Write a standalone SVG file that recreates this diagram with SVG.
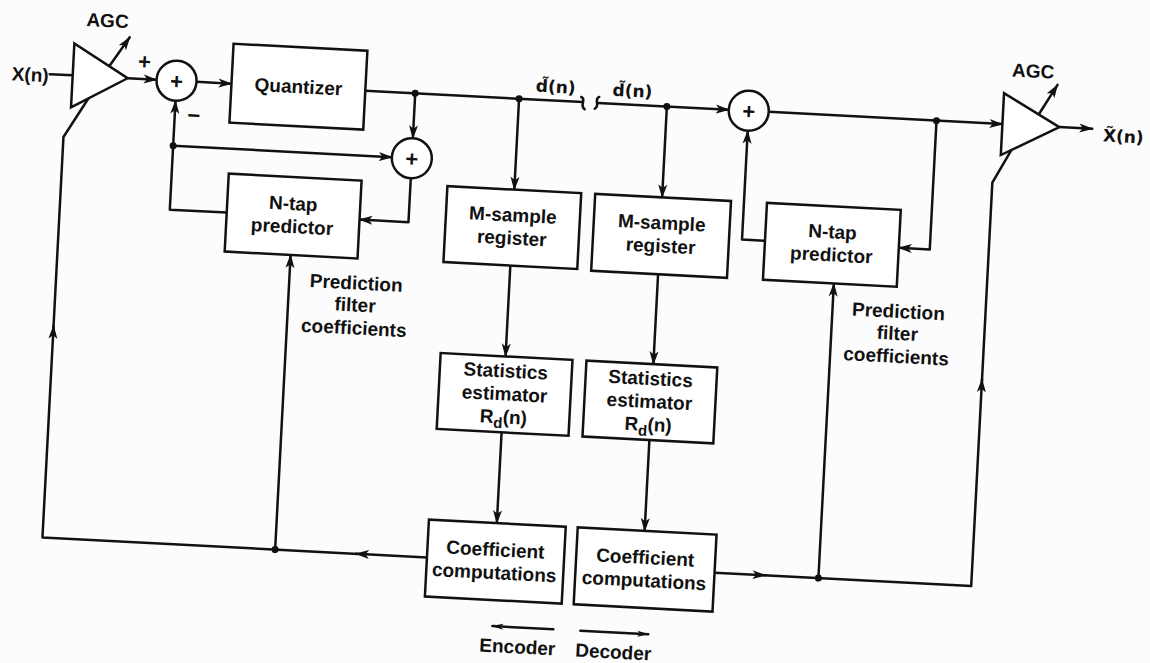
<svg xmlns="http://www.w3.org/2000/svg" width="1150" height="663" viewBox="0 0 1150 663">
<style>
.box{fill:#fff;stroke:#111;stroke-width:2.5}
.sum{fill:#fff;stroke:#111;stroke-width:2.5}
.w{fill:none;stroke:#111;stroke-width:2.5;stroke-linejoin:round;stroke-linecap:round}
.a{marker-end:url(#arr)}
.s{marker-end:url(#arrs)}
.dot{fill:#111}
text{font-family:"Liberation Sans",Arial,sans-serif;font-weight:bold;font-size:19px;fill:#111;text-anchor:middle}
.til{font-family:"DejaVu Sans","Liberation Sans",sans-serif;font-size:17px;text-anchor:start}
.pl{font-size:22px}
</style>
<defs>
<marker id="arr" markerUnits="userSpaceOnUse" markerWidth="14" markerHeight="10" refX="13" refY="5" orient="auto">
<path d="M0,0.5 L14,5 L0,9.5 L3.5,5 z" fill="#111"/>
</marker>
<marker id="arrs" markerUnits="userSpaceOnUse" markerWidth="12" markerHeight="8" refX="11" refY="4" orient="auto">
<path d="M0,1 L12,4 L0,7 L3,4 z" fill="#111"/>
</marker>
</defs>
<rect x="0" y="0" width="1150" height="663" fill="#fcfcfc"/>
<g transform="rotate(3 575 331)">
<g id="connectors">
<path class="w" d="M37,102 H60"/>
<path class="w a" d="M115,102 H144"/>
<path class="w a" d="M184,102 H219"/>
<path class="w" d="M353,102 H571"/>
<path class="w" d="M569,97 C575,99 567,105 573,109"/>
<path class="w" d="M587,96 C581,99 589,104 583,108"/>
<path class="w a" d="M403,102 V147"/>
<path class="w a" d="M164,167 H383"/>
<path class="w a" d="M221,231 H164 V122"/>
<path class="w a" d="M403,187 V231 H354"/>
<path class="w a" d="M507,102 V193"/>
<path class="w a" d="M507,269 V360"/>
<path class="w a" d="M507,436 V527"/>
<path class="w a" d="M439,565 H368"/>
<path class="w a" d="M370,565 H54 V353"/>
<path class="w" d="M54,355 V164 L77,124"/>
<path class="w a" d="M287,565 V270"/>
<path class="w a" d="M586,102 H717"/>
<path class="w a" d="M655,102 V193"/>
<path class="w a" d="M655,270 V360"/>
<path class="w a" d="M655,436 V527"/>
<path class="w a" d="M727,565 H778"/>
<path class="w a" d="M776,565 H984 V358"/>
<path class="w" d="M984,360 V161 L1001,128"/>
<path class="w a" d="M831,565 V270"/>
<path class="w a" d="M757,102 H991"/>
<path class="w a" d="M925,102 V231 H894"/>
<path class="w a" d="M760,231 H737 V122"/>
<path class="w a" d="M1048,102 H1081"/>
<path class="w a" d="M96,91 L115,61"/>
<path class="w a" d="M1027,90 L1044,60"/>
<path class="w s" d="M569,630 H508"/>
<path class="w s" d="M596,630 H664"/>
<circle class="dot" cx="403" cy="102" r="3.5"/>
<circle class="dot" cx="507" cy="102" r="3.5"/>
<circle class="dot" cx="164" cy="167" r="3.5"/>
<circle class="dot" cx="287" cy="565" r="3.5"/>
<circle class="dot" cx="655" cy="102" r="3.5"/>
<circle class="dot" cx="925" cy="102" r="3.5"/>
<circle class="dot" cx="831" cy="565" r="3.5"/>
</g>
<g id="agc-enc">
<polygon class="box" points="60,70 60,134 115,102"/>
<text x="92" y="52">AGC</text>
</g>
<text x="36" y="110" style="text-anchor:end">X(n)</text>
<g id="sum-enc-1">
<circle class="sum" cx="164" cy="102" r="20"/>
<text class="pl" x="164" y="110">+</text>
<text class="pl" x="131" y="92">+</text>
<text class="pl" x="183" y="143">−</text>
</g>
<g id="quantizer">
<rect class="box" x="219" y="62" width="134" height="79"/>
<text x="286" y="108">Quantizer</text>
</g>
<g id="sum-enc-2">
<circle class="sum" cx="403" cy="167" r="20"/>
<text class="pl" x="403" y="175">+</text>
</g>
<g id="predictor-enc">
<rect class="box" x="221" y="192" width="133" height="78"/>
<text x="287" y="225">N-tap</text>
<text x="287" y="248">predictor</text>
</g>
<g id="label-enc-coef">
<text x="354" y="301">Prediction</text>
<text x="354" y="323">filter</text>
<text x="354" y="346">coefficients</text>
</g>
<text class="til" x="523" y="94">d̃(n)</text>
<text class="til" x="600" y="94">d̃(n)</text>
<g id="msample-enc">
<rect class="box" x="440" y="193" width="134" height="76"/>
<text x="507" y="225">M-sample</text>
<text x="507" y="248">register</text>
</g>
<g id="stat-enc">
<rect class="box" x="442" y="360" width="132" height="76"/>
<text x="508" y="381">Statistics</text>
<text x="508" y="404">estimator</text>
<text x="508" y="427">R<tspan dy="5" font-size="15">d</tspan><tspan dy="-5">(n)</tspan></text>
</g>
<g id="coef-enc">
<rect class="box" x="439" y="527" width="137" height="77"/>
<text x="507" y="560">Coefficient</text>
<text x="507" y="583">computations</text>
</g>
<g id="msample-dec">
<rect class="box" x="588" y="193" width="136" height="77"/>
<text x="656" y="225">M-sample</text>
<text x="656" y="248">register</text>
</g>
<g id="stat-dec">
<rect class="box" x="588" y="360" width="131" height="76"/>
<text x="653" y="381">Statistics</text>
<text x="653" y="404">estimator</text>
<text x="653" y="427">R<tspan dy="5" font-size="15">d</tspan><tspan dy="-5">(n)</tspan></text>
</g>
<g id="coef-dec">
<rect class="box" x="588" y="527" width="139" height="77"/>
<text x="657" y="560">Coefficient</text>
<text x="657" y="583">computations</text>
</g>
<g id="sum-dec">
<circle class="sum" cx="737" cy="102" r="20"/>
<text class="pl" x="737" y="110">+</text>
</g>
<g id="predictor-dec">
<rect class="box" x="760" y="193" width="134" height="77"/>
<text x="827" y="225">N-tap</text>
<text x="827" y="248">predictor</text>
</g>
<g id="label-dec-coef">
<text x="897" y="301">Prediction</text>
<text x="897" y="323">filter</text>
<text x="897" y="346">coefficients</text>
</g>
<g id="agc-dec">
<polygon class="box" points="991,71 991,133 1048,102"/>
<text x="1019" y="54">AGC</text>
</g>
<text class="til" x="1092" y="114">X̃(n)</text>
<text x="534" y="656">Encoder</text>
<text x="630" y="656">Decoder</text>
</g>
</svg>
